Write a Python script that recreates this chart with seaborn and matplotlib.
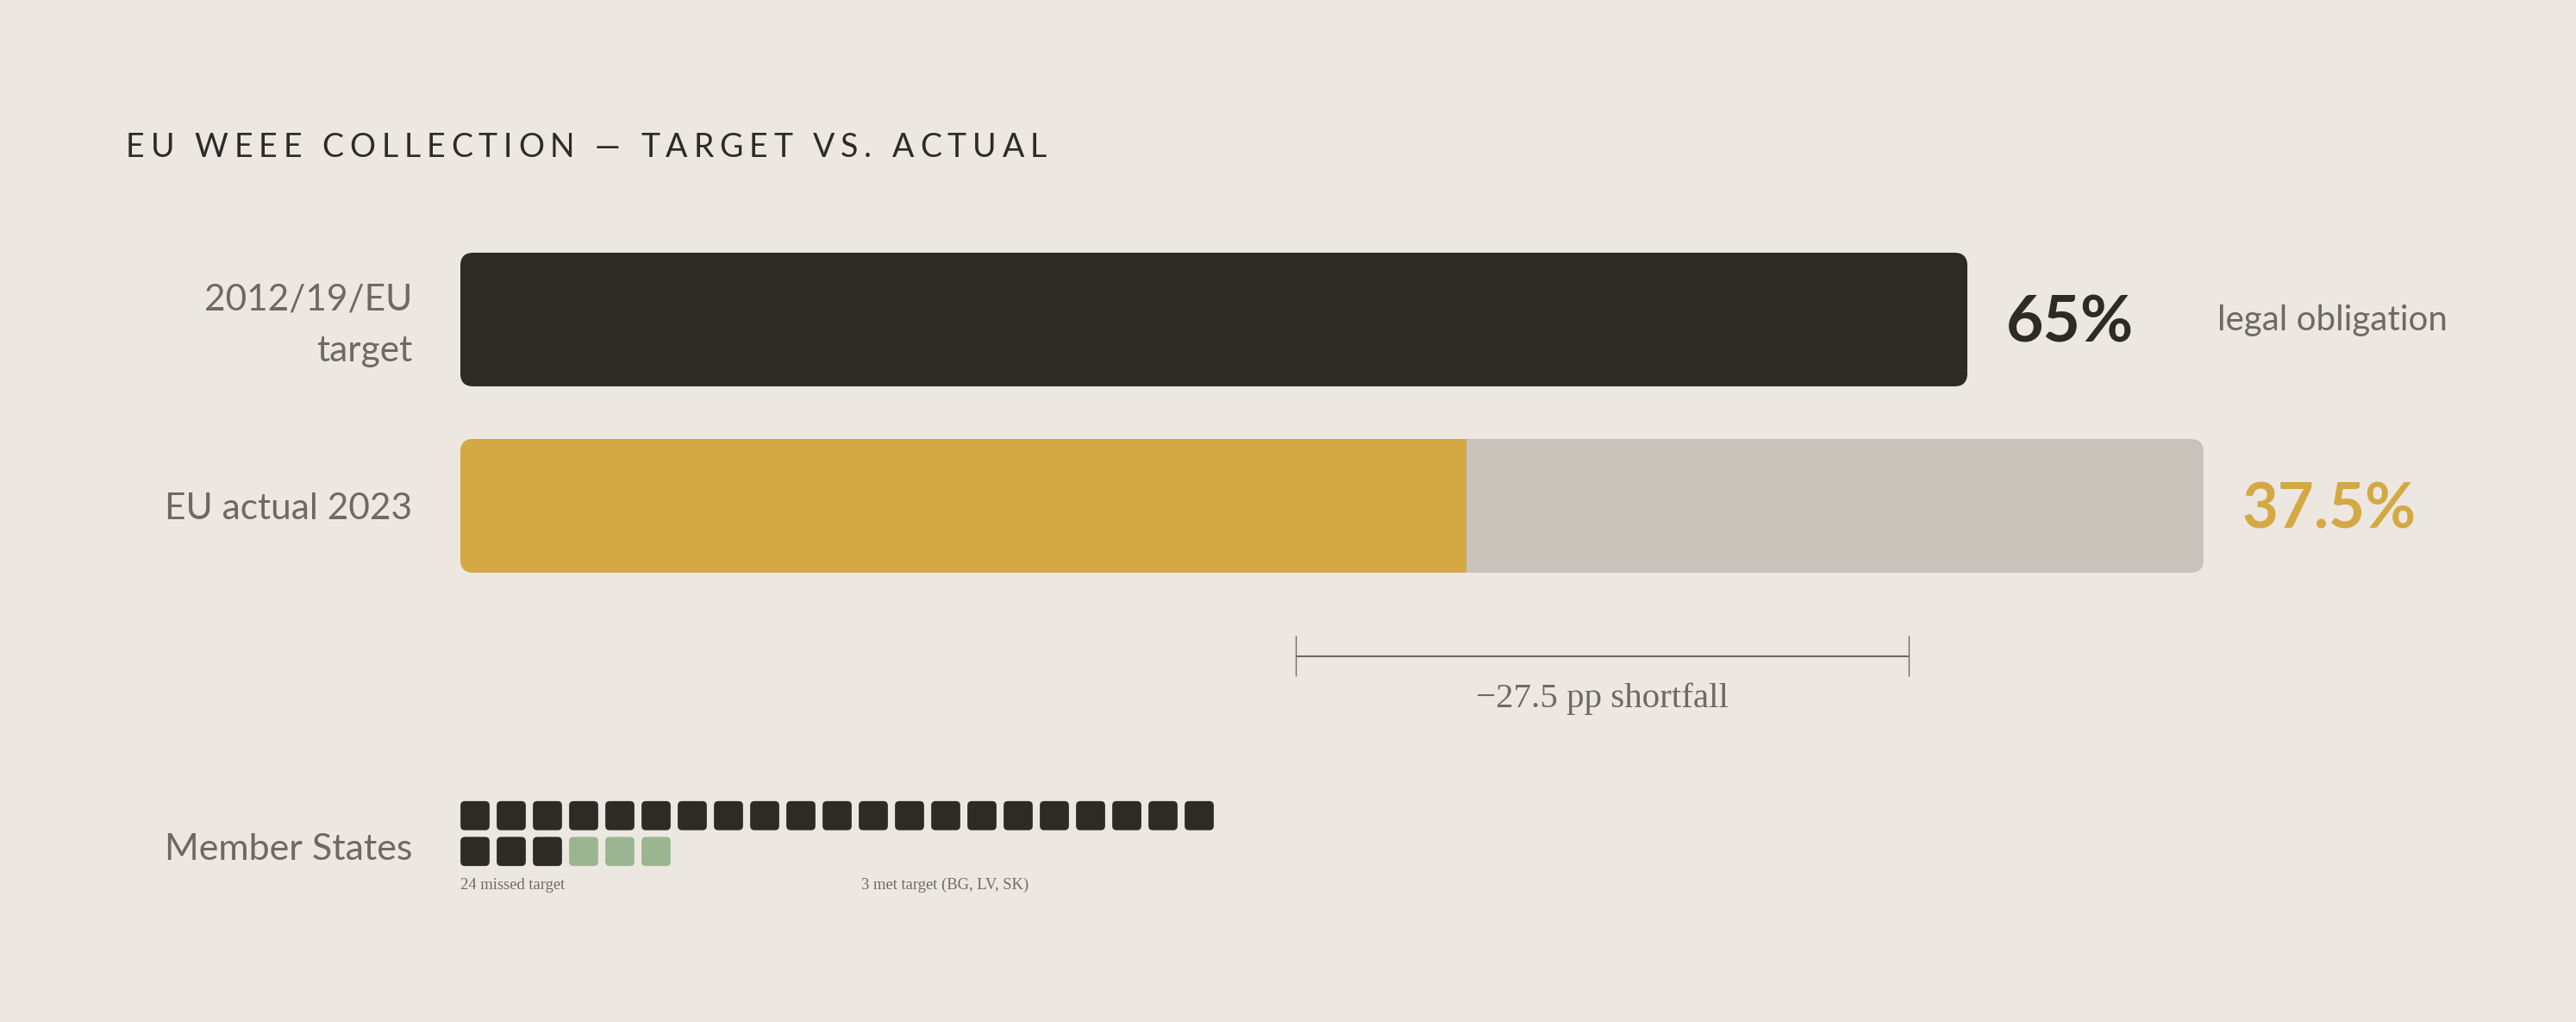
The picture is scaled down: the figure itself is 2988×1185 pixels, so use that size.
import numpy as np
import pandas as pd
import matplotlib
matplotlib.use("Agg")
import matplotlib.pyplot as plt
import seaborn as sns
from matplotlib.patches import FancyBboxPatch, BoxStyle
from matplotlib.markers import MarkerStyle
from matplotlib.transforms import ScaledTranslation

# ---------------- data ----------------
title = "EU WEEE COLLECTION \u2014 TARGET VS. ACTUAL"
row_labels = ["2012/19/EU\ntarget", "EU actual 2023"]
target_value = 65.0
actual_value = 37.5
shortfall_pp = -27.5
target_note = "legal obligation"
waffle_label = "Member States"
missed_count = 24
met_count = 3
met_states = ["BG", "LV", "SK"]

# ---------------- style ----------------
BG = "#ece8e1"
DARK = "#2c2b25"
GOLD = "#d4a843"
TRACK = "#c7c2ba"
GREEN = "#9bb591"
GREY = "#6e6a62"
SANS = ["Lato", "DejaVu Sans"]
SERIF = ["Liberation Serif", "DejaVu Serif"]

W, H, DPI = 2988, 1185, 100
sns.set_theme(style="white")
plt.rcParams["font.family"] = SANS
fig = plt.figure(figsize=(W / DPI, H / DPI), dpi=DPI, facecolor=BG)


def px_axes(x0, y0, x1, y1):
    ax = fig.add_axes([x0 / W, 1 - y1 / H, (x1 - x0) / W, (y1 - y0) / H])
    ax.set_facecolor("none")
    for s in ax.spines.values():
        s.set_visible(False)
    return ax


def rounded(ax, rect, radius_px, color, zorder=1):
    x, y, w, h = rect.get_x(), rect.get_y(), rect.get_width(), rect.get_height()
    bb = ax.get_window_extent()
    xl, yl = ax.get_xlim(), ax.get_ylim()
    ppx = bb.width / abs(xl[1] - xl[0])
    ppy = bb.height / abs(yl[1] - yl[0])
    r = radius_px / ppx
    p = FancyBboxPatch((x, y), w, h, boxstyle=f"round,pad=0,rounding_size={r}",
                       mutation_aspect=ppx / ppy, fc=color, ec="none", lw=0,
                       zorder=zorder)
    ax.add_patch(p)
    return p


def style_bar_axes(ax, shift_px=0):
    ax.set_xlabel("")
    ax.set_ylabel("")
    ax.set_xticks([])
    ax.tick_params(axis="y", length=0, pad=40.3, labelsize=30.5, labelcolor=GREY)
    for t in ax.get_yticklabels():
        t.set_linespacing(1.72)
        if shift_px:
            t.set_transform(t.get_transform() +
                            ScaledTranslation(0, shift_px / DPI, fig.dpi_scale_trans))


# ---------------- row 1: target ----------------
ax1 = px_axes(534, 293, 2282, 448)
df1 = pd.DataFrame({"label": [row_labels[0]], "value": [target_value]})
sns.barplot(data=df1, x="value", y="label", orient="h", color=DARK, saturation=1,
            width=1, errorbar=None, ax=ax1)
ax1.set_xlim(0, target_value)
ax1.set_ylim(0.5, -0.5)
bar = ax1.patches[0]
rounded(ax1, bar, 15, DARK)
bar.remove()
style_bar_axes(ax1, shift_px=8)
ax1.annotate(f"{target_value:g}%", xy=(target_value, 0), xytext=(45, -26),
             textcoords="offset pixels", ha="left", va="baseline", fontsize=54,
             fontweight="bold", color=DARK, annotation_clip=False)
ax1.annotate(target_note, xy=(target_value, 0), xytext=(290, -12),
             textcoords="offset pixels", ha="left", va="baseline", fontsize=29,
             color=GREY, annotation_clip=False)

# ---------------- row 2: actual ----------------
ax2 = px_axes(534, 509, 2556, 664)
df_track = pd.DataFrame({"label": [row_labels[1]], "value": [target_value]})
df_act = pd.DataFrame({"label": [row_labels[1]], "value": [actual_value]})
sns.barplot(data=df_track, x="value", y="label", orient="h", color=TRACK, saturation=1,
            width=1, errorbar=None, ax=ax2)
sns.barplot(data=df_act, x="value", y="label", orient="h", color=GOLD, saturation=1,
            width=1, errorbar=None, ax=ax2)
ax2.set_xlim(0, target_value)
ax2.set_ylim(0.5, -0.5)
track_bar, gold_bar = ax2.patches[0], ax2.patches[1]
track_round = rounded(ax2, track_bar, 15, TRACK, zorder=1)
track_bar.remove()
gold_bar.set_zorder(3)
gold_bar.set_edgecolor("none")
gold_bar.set_linewidth(0)
gold_bar.set_clip_path(track_round)
style_bar_axes(ax2)
ax2.annotate(f"{actual_value:g}%", xy=(target_value, 0), xytext=(45, -26),
             textcoords="offset pixels", ha="left", va="baseline", fontsize=52,
             fontweight="bold", color=GOLD, annotation_clip=False)

# ---------------- shortfall bracket ----------------
ax3 = px_axes(534, 737, 534 + 2584, 784)
ax3.set_xlim(0, 100)
ax3.set_ylim(0, 1)
ax3.set_xticks([])
ax3.set_yticks([])
ax3.hlines(0.5, actual_value, target_value, color=GREY, lw=1.5, clip_on=False)
ax3.vlines([actual_value, target_value], 0, 1, color=GREY, lw=1.0, clip_on=False)
ax3.annotate(f"\u2212{abs(shortfall_pp):g} pp shortfall",
             xy=((actual_value + target_value) / 2, 0), xytext=(0, -36),
             textcoords="offset pixels", ha="center", va="baseline", fontsize=29.5,
             family=SERIF, color=GREY, annotation_clip=False)

# ---------------- member-state waffle ----------------
n_cols = 21
status = ["missed"] * missed_count + ["met"] * met_count
idx = np.arange(len(status))
dfw = pd.DataFrame({"col": idx % n_cols, "row": idx // n_cols, "status": status})
ax4 = px_axes(530, 925, 530 + 42 * n_cols, 1008)
box_path = BoxStyle.Round(pad=0, rounding_size=0.15)(-0.5, -0.5, 1, 1, 1)
sns.scatterplot(data=dfw, x="col", y="row", hue="status",
                palette={"missed": DARK, "met": GREEN}, marker=MarkerStyle(box_path),
                s=590, linewidth=0, edgecolor="none", legend=False, ax=ax4)
ax4.set_xlim(-0.5, n_cols - 0.5)
ax4.set_ylim(1.5, -0.5)
ax4.set_xticks([])
ax4.set_yticks([])
ax4.set_xlabel("")
ax4.set_ylabel("")

fig.text(478 / W, 1 - 997 / H, waffle_label, ha="right", va="baseline",
         fontsize=31, color=GREY)
fig.text(534 / W, 1 - 1031 / H, f"{missed_count} missed target", ha="left",
         va="baseline", fontsize=13.4, family=SERIF, color=GREY)
fig.text(999 / W, 1 - 1031 / H, f"{met_count} met target ({', '.join(met_states)})",
         ha="left", va="baseline", fontsize=13.4, family=SERIF, color=GREY)

# ---------------- title with letter spacing ----------------
renderer = fig.canvas.get_renderer()


def text_width(txt, **kw):
    t = fig.text(0, 0, txt, **kw)
    w = t.get_window_extent(renderer).width
    t.remove()
    return w


def tracked_text(x_px, y_px, s, track_px, **kw):
    ref = text_width("I", **kw)
    x = x_px
    for ch in s:
        if ch != " ":
            fig.text(x / W, 1 - y_px / H, ch, ha="left", va="baseline", **kw)
        x += text_width(ch + "I", **kw) - ref + track_px


tracked_text(146, 182, title, 6.9, fontsize=27, color=DARK)

fig.savefig("out.png", dpi=DPI, facecolor=BG)
